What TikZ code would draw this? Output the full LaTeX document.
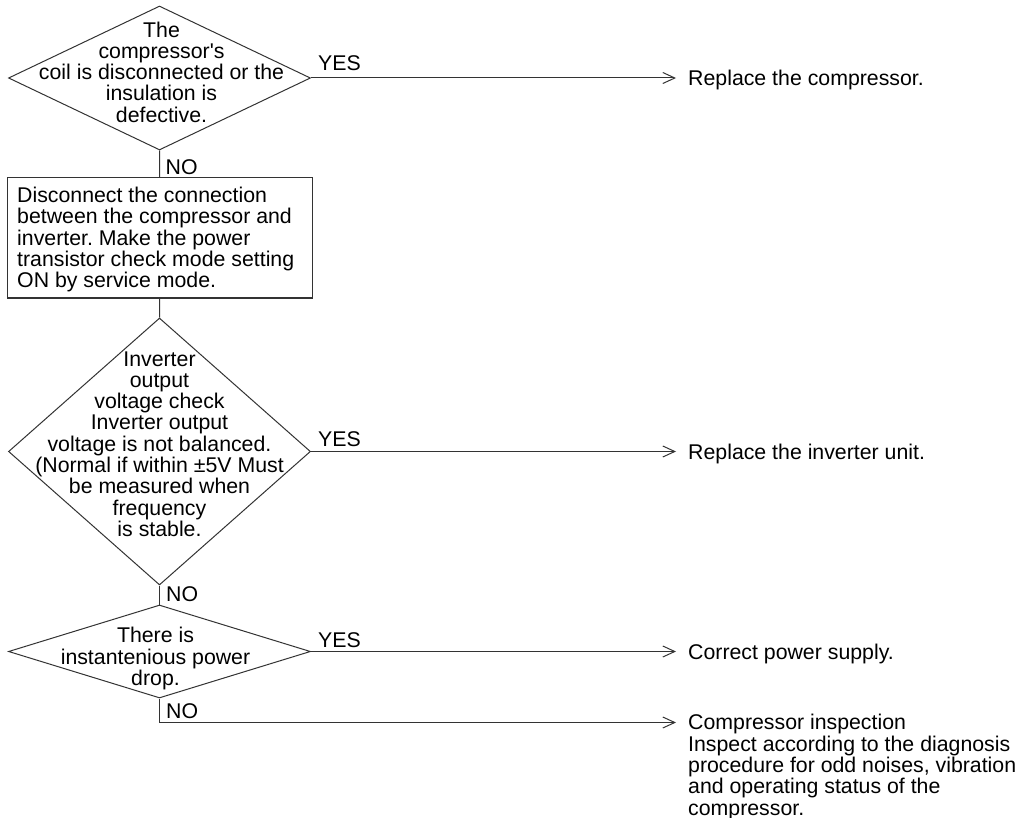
\documentclass[tikz,border=0pt]{standalone}
\usepackage{fontspec}
\setmainfont{Liberation Sans}[Ligatures=TeXOff]
\usetikzlibrary{shapes.geometric,arrows.meta}
\definecolor{linecol}{HTML}{333333}
\tikzset{
  txt/.style={inner sep=0pt, font=\fontsize{21.3}{21.3}\selectfont\frenchspacing, text=black},
  dia/.style={draw=linecol, line width=1pt, shape=diamond, inner sep=0pt},
  boxnode/.style={draw=linecol, line width=1pt, rectangle, inner sep=0pt},
  conn/.style={draw=linecol, line width=1pt},
  arr/.style={conn, -{Straight Barb[length=12pt,width=11pt,line width=1pt]}},
}
\begin{document}
\begin{tikzpicture}[x=1pt,y=-1pt]
\useasboundingbox (0,0) rectangle (1025,818);
\fill[white] (0,0) rectangle (1025,818);

% decision 1
\node[dia, minimum width=302pt, minimum height=144pt] (d1) at (159.5,78) {};
\node[txt, align=center] (t1) at (161.5,72) {The\\compressor's\\coil is disconnected or the\\insulation is\\defective.};
\coordinate (c1) at (676,78);
\draw[arr] (d1.east) -- (c1);
\node[txt, anchor=base west] (y1) at (318,71) {YES};
\node[txt, anchor=base west] (r1) at (688,86) {Replace the compressor.};

% box
\node[boxnode, minimum width=304.5pt, minimum height=120pt] (b1) at (159.75,238) {};
\node[txt, align=left, anchor=north west] (tb) at (17,187) {Disconnect the connection\\between the compressor and\\inverter. Make the power\\transistor check mode setting\\ON by service mode.};
\draw[conn] (d1.south) -- (b1.north);
\node[txt, anchor=base west] (n1) at (165.5,175) {NO};

% decision 2
\node[dia, minimum width=302pt, minimum height=267pt] (d2) at (159.5,451.5) {};
\node[txt, align=center] (t2) at (159.5,444) {Inverter\\output\\voltage check\\Inverter output\\voltage is not balanced.\\(Normal if within ±5V Must\\be measured when\\frequency\\is stable.};
\draw[conn] (b1.south) -- (d2.north);
\coordinate (c2) at (676,451.5);
\draw[arr] (d2.east) -- (c2);
\node[txt, anchor=base west] (y2) at (318,446.5) {YES};
\node[txt, anchor=base west] (r2) at (688,459) {Replace the inverter unit.};

% decision 3
\node[dia, minimum width=302pt, minimum height=93pt] (d3) at (159.5,651.5) {};
\node[txt, align=center] (t3) at (155.5,658.5) {There is\\instantenious power\\drop.};
\draw[conn] (d2.south) -- (d3.north);
\node[txt, anchor=base west] (n2) at (166,601.5) {NO};
\coordinate (c3) at (676,651.5);
\draw[arr] (d3.east) -- (c3);
\node[txt, anchor=base west] (y3) at (318,647.5) {YES};
\node[txt, anchor=base west] (r3) at (688,659) {Correct power supply.};

% final NO
\coordinate (c4) at (676,722.5);
\draw[arr] (d3.south) |- (c4);
\node[txt, anchor=base west] (n3) at (166,718.3) {NO};
\node[txt, align=left, anchor=north west] (r4) at (688,714.3) {Compressor inspection\\Inspect according to the diagnosis\\procedure for odd noises, vibration\\and operating status of the\\compressor.};
\end{tikzpicture}
\end{document}
